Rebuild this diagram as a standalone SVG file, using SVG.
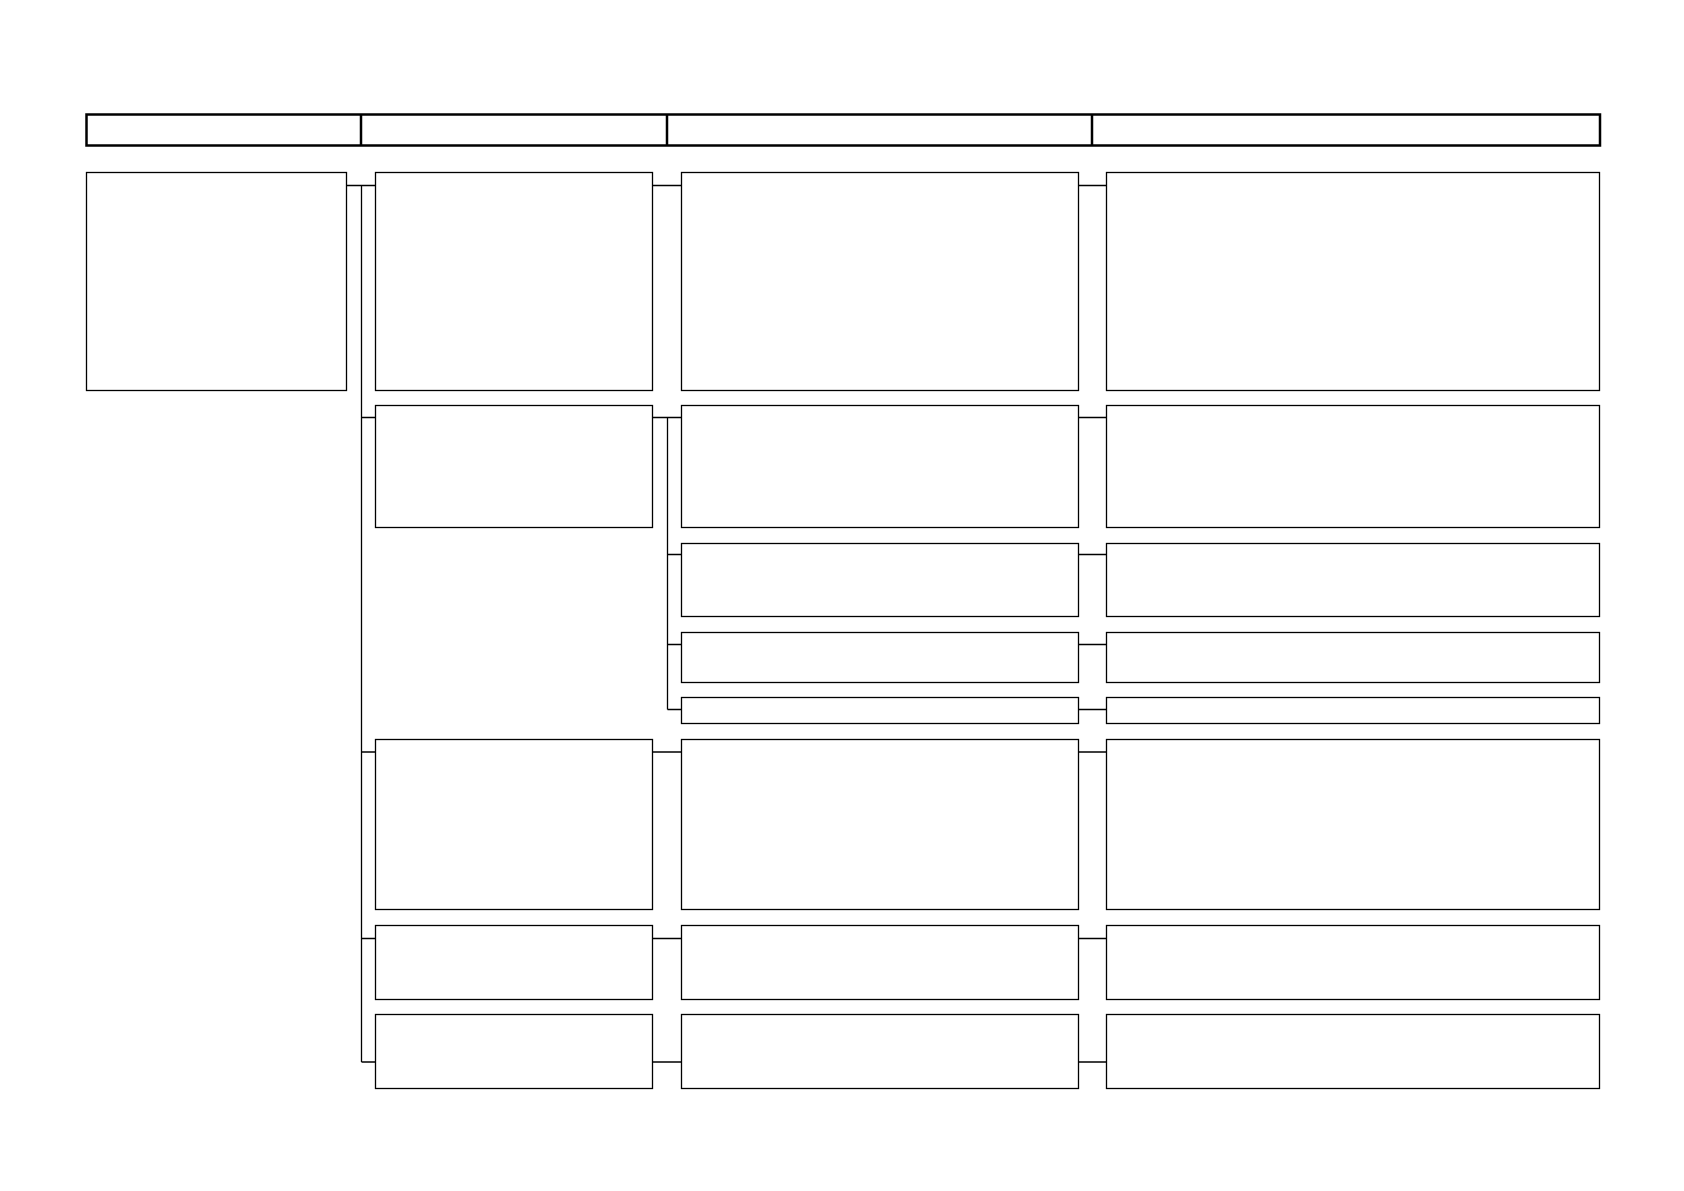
<svg xmlns="http://www.w3.org/2000/svg" width="1684" height="1191" viewBox="0 0 1684 1191">
<style>
.hdr{fill:#fff;stroke:#000;stroke-width:2.5}
.hdl{stroke:#000;stroke-width:2.5}
.box{fill:#fff;stroke:#000;stroke-width:1.3}
.con{fill:none;stroke:#000;stroke-width:1.3}
</style>
<rect width="1684" height="1191" fill="#fff"/>
<g id="header">
<rect class="hdr" x="86.5" y="114.5" width="1513.5" height="31"/>
<line class="hdl" x1="361" y1="114.5" x2="361" y2="145.5"/>
<line class="hdl" x1="667" y1="114.5" x2="667" y2="145.5"/>
<line class="hdl" x1="1092" y1="114.5" x2="1092" y2="145.5"/>
</g>
<g id="connectors">
<path class="con" d="M346.5 185.5H375.5M361.5 185.5V1062M361.5 417.5H375.5M361.5 752H375.5M361.5 938.5H375.5M361.5 1062H375.5"/>
<path class="con" d="M652.5 185.5H681.5M652.5 417.5H681.5M667.5 417.5V709.5M667.5 554.5H681.5M667.5 644.5H681.5M667.5 709.5H681.5M652.5 752H681.5M652.5 938.5H681.5M652.5 1062H681.5"/>
<path class="con" d="M1078.5 185.5H1106.5M1078.5 417.5H1106.5M1078.5 554.5H1106.5M1078.5 644.5H1106.5M1078.5 709.5H1106.5M1078.5 752H1106.5M1078.5 938.5H1106.5M1078.5 1062H1106.5"/>
</g>
<g id="root"><rect class="box" x="86.5" y="172.5" width="260" height="218"/></g>
<g id="l2a"><rect class="box" x="375.5" y="172.5" width="277" height="218"/></g>
<g id="l2b"><rect class="box" x="375.5" y="405.5" width="277" height="122"/></g>
<g id="l2c"><rect class="box" x="375.5" y="739.5" width="277" height="170"/></g>
<g id="l2d"><rect class="box" x="375.5" y="925.5" width="277" height="74"/></g>
<g id="l2e"><rect class="box" x="375.5" y="1014.5" width="277" height="74"/></g>
<g id="l3a"><rect class="box" x="681.5" y="172.5" width="397" height="218"/></g>
<g id="l3b1"><rect class="box" x="681.5" y="405.5" width="397" height="122"/></g>
<g id="l3b2"><rect class="box" x="681.5" y="543.5" width="397" height="73"/></g>
<g id="l3b3"><rect class="box" x="681.5" y="632.5" width="397" height="50"/></g>
<g id="l3b4"><rect class="box" x="681.5" y="697.5" width="397" height="26"/></g>
<g id="l3c"><rect class="box" x="681.5" y="739.5" width="397" height="170"/></g>
<g id="l3d"><rect class="box" x="681.5" y="925.5" width="397" height="74"/></g>
<g id="l3e"><rect class="box" x="681.5" y="1014.5" width="397" height="74"/></g>
<g id="l4a"><rect class="box" x="1106.5" y="172.5" width="493" height="218"/></g>
<g id="l4b1"><rect class="box" x="1106.5" y="405.5" width="493" height="122"/></g>
<g id="l4b2"><rect class="box" x="1106.5" y="543.5" width="493" height="73"/></g>
<g id="l4b3"><rect class="box" x="1106.5" y="632.5" width="493" height="50"/></g>
<g id="l4b4"><rect class="box" x="1106.5" y="697.5" width="493" height="26"/></g>
<g id="l4c"><rect class="box" x="1106.5" y="739.5" width="493" height="170"/></g>
<g id="l4d"><rect class="box" x="1106.5" y="925.5" width="493" height="74"/></g>
<g id="l4e"><rect class="box" x="1106.5" y="1014.5" width="493" height="74"/></g>
</svg>
